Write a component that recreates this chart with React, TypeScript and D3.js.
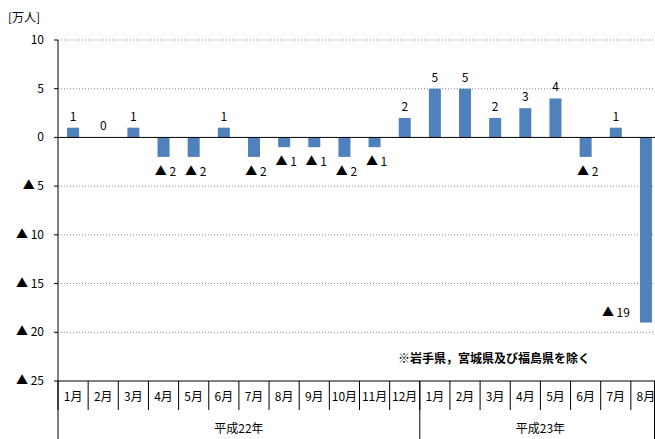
import * as d3 from 'd3'

const months = ['1月','2月','3月','4月','5月','6月','7月','8月','9月','10月','11月','12月','1月','2月','3月','4月','5月','6月','7月','8月']
const values = [1,0,1,-2,-2,1,-2,-1,-1,-2,-1,2,5,5,2,3,4,-2,1,-19]
const years = [{ label: '平成22年', from: 0, to: 12 }, { label: '平成23年', from: 12, to: 20 }]
const yTicks = [10,5,0,-5,-10,-15,-20,-25]

const fmt = (v: number) => (v < 0 ? `▲ ${-v}` : `${v}`)

export default function App() {
  const W = 655, H = 439
  const left = 58, right = 661, top = 40, bottom = 381
  const x = d3.scaleBand<number>().domain(d3.range(months.length)).range([left, right])
  const y = d3.scaleLinear().domain([-25, 10]).range([bottom, top])
  const bw = x.bandwidth()
  const font = '"Noto Sans CJK JP", "Liberation Sans", sans-serif'
  return (
    <svg width={W} height={H} style={{ position: 'absolute', left: 0, top: 0, fontFamily: font }}>
      <rect width={W} height={H} fill="#fff" />
      <text x={8} y={22} fontSize={12}>[万人]</text>
      {yTicks.map(t => (
        <g key={t}>
          {t !== -25 && t !== 0 && (
            <line x1={left} x2={right} y1={y(t)} y2={y(t)} stroke="#888" strokeDasharray="1,2" />
          )}
          <text x={44} y={y(t) + 4} textAnchor="end" fontSize={12}>{fmt(t)}</text>
          <line x1={left - 4} x2={left} y1={y(t)} y2={y(t)} stroke="#000" />
        </g>
      ))}
      {values.map((v, i) => {
        const cx = x(i)! + bw / 2
        const y0 = y(Math.max(0, v)), y1 = y(Math.min(0, v))
        const last = i === values.length - 1
        return (
          <g key={i}>
            <rect x={cx - 6} y={y0} width={12} height={y1 - y0} fill="#4F81BD" />
            {v >= 0 ? (
              <text x={cx} y={y0 - 7} textAnchor="middle" fontSize={12}>{fmt(v)}</text>
            ) : last ? (
              <text x={cx - 30} y={y(-18) + 4} textAnchor="middle" fontSize={12}>{fmt(v)}</text>
            ) : (
              <text x={cx + 2} y={y1 + 19} textAnchor="middle" fontSize={12}>{fmt(v)}</text>
            )}
          </g>
        )
      })}
      <line x1={left} x2={right} y1={y(0)} y2={y(0)} stroke="#000" />
      <line x1={left} x2={left} y1={top} y2={bottom} stroke="#000" />
      <line x1={left} x2={right} y1={bottom} y2={bottom} stroke="#000" />
      {months.map((m, i) => (
        <g key={i}>
          <line x1={x(i)!} x2={x(i)!} y1={bottom} y2={410} stroke="#000" />
          <text x={x(i)! + bw / 2} y={401} textAnchor="middle" fontSize={12}>{m}</text>
        </g>
      ))}
      <line x1={W - 0.5} x2={W - 0.5} y1={bottom} y2={H} stroke="#000" />
      {years.map(g => (
        <g key={g.label}>
          <line x1={x(g.from)!} x2={x(g.from)!} y1={bottom} y2={H} stroke="#000" />
          <text x={(x(g.from)! + (g.to < months.length ? x(g.to)! : right)) / 2} y={433} textAnchor="middle" fontSize={12}>{g.label}</text>
        </g>
      ))}
      <text x={398} y={363} fontSize={12} fontWeight="bold">※岩手県，宮城県及び福島県を除く</text>
    </svg>
  )
}
